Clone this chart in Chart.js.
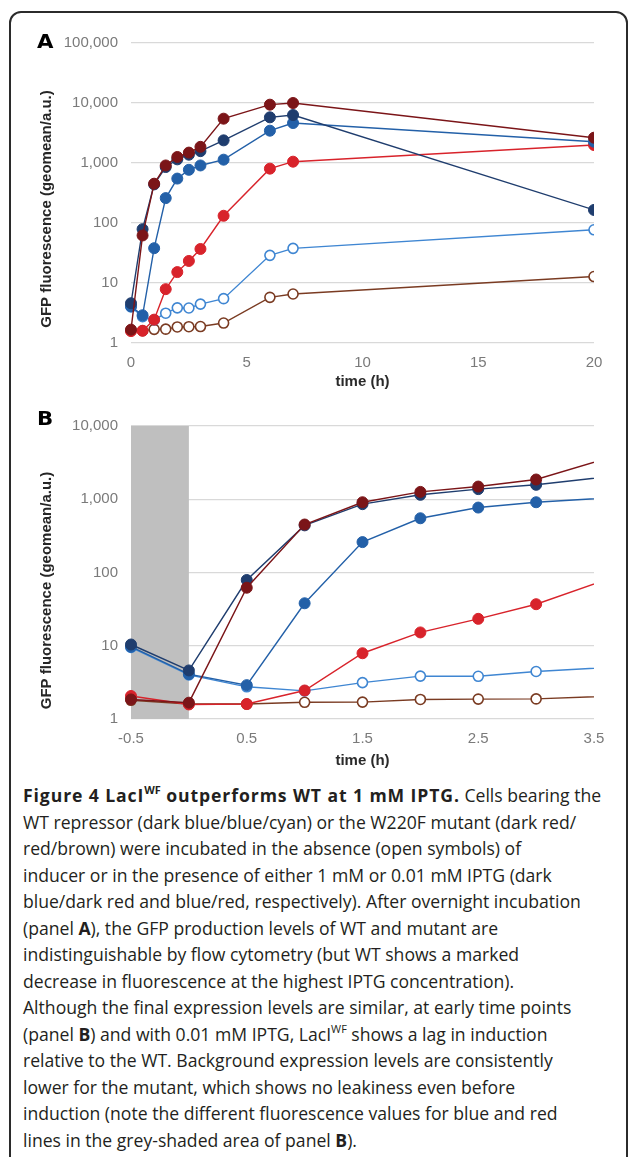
<!DOCTYPE html>
<html><head><meta charset="utf-8">
<script src="https://cdn.jsdelivr.net/npm/chart.js@4.4.0/dist/chart.umd.min.js"></script>
<style>
html,body{margin:0;padding:0;background:#fff;}
body{width:629px;height:1157px;position:relative;overflow:hidden;}
#frame{position:absolute;left:9px;top:11px;width:615px;height:1200px;border:2px solid #2b2b2b;border-radius:12px;}
canvas{position:absolute;left:0;}
#ca{top:0;}
#cb{top:400px;}
.panel{position:absolute;font-family:"DejaVu Sans",sans-serif;font-weight:bold;font-size:19px;color:#000;transform:scaleX(1.12);transform-origin:left center;line-height:22px;}
#caption{position:absolute;left:23px;top:782px;font-family:"Open Sans",sans-serif;font-size:17.6px;line-height:26.5px;color:#231f20;white-space:nowrap;}
#caption b.h{letter-spacing:0.9px;}
#caption sup{font-size:0.62em;line-height:0;vertical-align:0.7em;letter-spacing:0;}
</style>
</head><body>
<div id="frame"></div>
<canvas id="ca" width="629" height="400"></canvas>
<canvas id="cb" width="629" height="375"></canvas>
<div class="panel" style="left:37px;top:30px;">A</div>
<div class="panel" style="left:37px;top:407px;">B</div>
<div id="caption">
<b class="h">Figure 4 LacI<sup>WF</sup> outperforms WT at 1 mM IPTG.</b> Cells bearing the<br>
WT repressor (dark blue/blue/cyan) or the W220F mutant (dark red/<br>
red/brown) were incubated in the absence (open symbols) of<br>
inducer or in the presence of either 1 mM or 0.01 mM IPTG (dark<br>
blue/dark red and blue/red, respectively). After overnight incubation<br>
(panel <b>A</b>), the GFP production levels of WT and mutant are<br>
indistinguishable by flow cytometry (but WT shows a marked<br>
decrease in fluorescence at the highest IPTG concentration).<br>
Although the final expression levels are similar, at early time points<br>
(panel <b>B</b>) and with 0.01 mM IPTG, LacI<sup>WF</sup> shows a lag in induction<br>
relative to the WT. Background expression levels are consistently<br>
lower for the mutant, which shows no leakiness even before<br>
induction (note the different fluorescence values for blue and red<br>
lines in the grey-shaded area of panel <b>B</b>).
</div>
<script>
// ---- data ----
const times       = [-0.5, 0, 0.5, 1, 1.5, 2, 2.5, 3, 4, 6, 7, 20];
const wt1mM       = [10.4, 4.6, 79, 440, 857, 1150, 1375, 1575, 2385, 5770, 6310, 165];
const mut1mM      = [1.85, 1.67, 62, 452, 910, 1260, 1490, 1860, 5480, 9380, 10000, 2640];
const wt001mM     = [9.7, 4.1, 2.9, 38, 260, 550, 770, 910, 1136, 3456, 4640, 2265];
const mut001mM    = [2.06, 1.58, 1.6, 2.45, 7.9, 15.2, 23.3, 36.9, 132, 805, 1052, 1995];
const wtNone      = [9.5, 4.0, 2.75, 2.42, 3.14, 3.85, 3.83, 4.45, 5.48, 28.9, 37.8, 77];
const mutNone     = [1.8, 1.6, 1.6, 1.69, 1.7, 1.85, 1.87, 1.88, 2.15, 5.77, 6.56, 12.8];

const seriesNames = ['WT 1 mM', 'W220F 1 mM', 'WT 0.01 mM', 'W220F 0.01 mM', 'WT no IPTG', 'W220F no IPTG'];
const seriesData  = [wt1mM, mut1mM, wt001mM, mut001mM, wtNone, mutNone];
const seriesColor = ['#1f3d6e', '#7b1518', '#2360a8', '#d8232b', '#3f86d2', '#7a3b22'];
const seriesOpen  = [false, false, false, false, true, true];
const seriesOrder = [1, 0, 2, 3, 4, 5];

const xTicksA = [0, 5, 10, 15, 20];
const xTicksB = [-0.5, 0.5, 1.5, 2.5, 3.5];
const yTicksA = [1, 10, 100, 1000, 10000, 100000];
const yTicksB = [1, 10, 100, 1000, 10000];
const xRangeA = [0, 20];
const xRangeB = [-0.5, 3.5];
const shadeRange = [-0.5, 0];

const yTitle = 'GFP fluorescence (geomean/a.u.)';
const xTitle = 'time (h)';

function buildDatasets(tMin, tMaxInclude) {
  return seriesData.map((vals, i) => ({
    label: seriesNames[i],
    data: times.map((t, k) => ({x: t, y: vals[k]})).filter(p => p.x >= tMin && p.x <= tMaxInclude),
    borderColor: seriesColor[i],
    backgroundColor: seriesOpen[i] ? '#ffffff' : seriesColor[i],
    pointBorderColor: seriesColor[i],
    pointBackgroundColor: seriesOpen[i] ? '#ffffff' : seriesColor[i],
    pointRadius: seriesOpen[i] ? 5 : 5.5,
    pointBorderWidth: seriesOpen[i] ? 1.6 : 1,
    borderWidth: 1.4,
    tension: 0,
    order: seriesOrder[i],
    clip: {left: 10, right: 0, top: 10, bottom: 10}
  }));
}

const shadePlugin = {
  id: 'shade',
  beforeDatasetsDraw(chart, args, opts) {
    if (!opts || !opts.on) return;
    const {ctx, scales: {x, y}} = chart;
    const x0 = x.getPixelForValue(shadeRange[0]);
    const x1 = x.getPixelForValue(shadeRange[1]);
    const y0 = y.getPixelForValue(y.max);
    const y1 = y.getPixelForValue(y.min);
    ctx.save();
    ctx.fillStyle = '#bfbfbf';
    ctx.fillRect(x0, y0, x1 - x0, y1 - y0);
    ctx.restore();
  }
};

// y-axis title, centred on the plot block (plot area + x tick labels)
const yTitlePlugin = {
  id: 'ytitle',
  afterDraw(chart, args, opts) {
    const {ctx, chartArea} = chart;
    const cy = (chartArea.top + chartArea.bottom) / 2 + opts.shift;
    ctx.save();
    ctx.translate(opts.x, cy);
    ctx.rotate(-Math.PI / 2);
    ctx.font = 'bold 15px "Liberation Sans"';
    ctx.fillStyle = '#262626';
    ctx.textAlign = 'center';
    ctx.textBaseline = 'middle';
    ctx.fillText(yTitle, 0, 0);
    ctx.restore();
  }
};

function makeChart(id, cfg) {
  return new Chart(document.getElementById(id), {
    type: 'line',
    data: {datasets: buildDatasets(cfg.xRange[0], cfg.dataMax)},
    plugins: [shadePlugin, yTitlePlugin],
    options: {
      responsive: false,
      animation: false,
      events: [],
      layout: {padding: {top: cfg.padTop, right: 35, bottom: cfg.padBottom, left: 0}},
      plugins: {legend: {display: false}, tooltip: {enabled: false},
                shade: {on: cfg.shade}, ytitle: {x: 47, shift: cfg.titleShift}},
      scales: {
        x: {
          type: 'linear',
          min: cfg.xRange[0], max: cfg.xRange[1],
          afterBuildTicks: s => { s.ticks = cfg.xTicks.map(v => ({value: v})); },
          afterFit: s => { s.height = cfg.xHeight; },
          grid: {display: false, drawTicks: false},
          border: {display: false},
          ticks: {
            padding: 11,
            color: '#7a7a7a',
            font: {family: 'Liberation Sans', size: 15},
            maxRotation: 0,
            autoSkip: false,
            callback: v => String(v)
          },
          title: {display: true, text: xTitle, padding: 0, color: '#2a2a2a',
                  font: {family: 'Liberation Sans', size: 15, weight: 'bold'}}
        },
        y: {
          type: 'logarithmic',
          min: cfg.yTicks[0], max: cfg.yTicks[cfg.yTicks.length - 1],
          afterBuildTicks: s => { s.ticks = cfg.yTicks.map(v => ({value: v})); },
          afterFit: s => { s.width = 131; },
          grid: {color: '#d9d9d9', lineWidth: 1.2, drawTicks: false},
          border: {display: false},
          ticks: {
            padding: 13,
            color: '#7a7a7a',
            font: {family: 'Liberation Sans', size: 15},
            autoSkip: false,
            callback: v => Number(v).toLocaleString('en-US')
          },
          title: {display: false}
        }
      }
    }
  });
}

makeChart('ca', {xRange: xRangeA, dataMax: 20, xTicks: xTicksA, yTicks: yTicksA,
                 padTop: 43, padBottom: 9.4, xHeight: 47.6, shade: false, titleShift: 16});
makeChart('cb', {xRange: xRangeB, dataMax: 4, xTicks: xTicksB, yTicks: yTicksB,
                 padTop: 26, padBottom: 5.4, xHeight: 50.6, shade: true, titleShift: 18});
</script>
</body></html>
